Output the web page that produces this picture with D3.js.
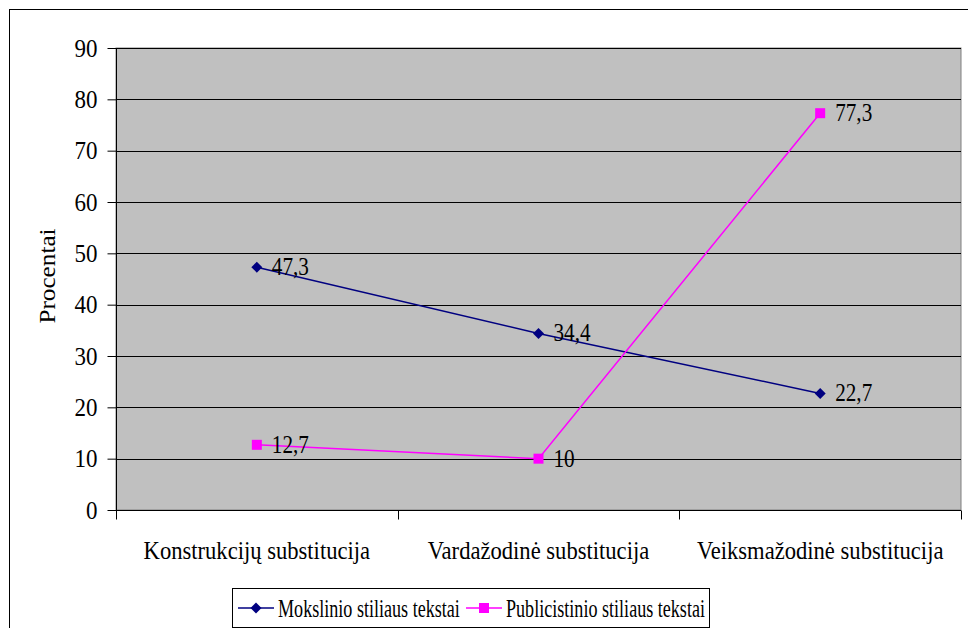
<!DOCTYPE html>
<html>
<head>
<meta charset="utf-8">
<script src="https://cdn.jsdelivr.net/npm/d3@7"></script>
<style>
  body { margin: 0; }
</style>
</head>
<body>
<svg id="chart" width="968" height="628" font-family="Liberation Serif" font-size="20"></svg>
<script>
const categories = ["Konstrukcijų substitucija", "Vardažodinė substitucija", "Veiksmažodinė substitucija"];
const seriesNames = ["Mokslinio stiliaus tekstai", "Publicistinio stiliaus tekstai"];
const mokslinio = [47.3, 34.4, 22.7];
const publicistinio = [12.7, 10, 77.3];
const yTicks = [0, 10, 20, 30, 40, 50, 60, 70, 80, 90];

const plot = {left: 116, top: 48, right: 961, bottom: 510};

const svg = d3.select("#chart");

// the original text is stretched a bit, more in height than in width
function stretch(sel, sx, sy) {
  sel.each(function() {
    const t = d3.select(this);
    const tx = +t.attr("x") || 0, ty = +t.attr("y") || 0;
    t.attr("x", 0).attr("y", 0)
     .attr("transform", `translate(${tx},${ty}) scale(${sx},${sy})`);
  });
}

// outer frame
svg.append("rect")
    .attr("x", 9.5).attr("y", 9.5)
    .attr("width", 970).attr("height", 640)
    .attr("fill", "#fff")
    .attr("stroke", "#000");

const x = d3.scaleBand().domain(categories).range([plot.left, plot.right]);
const y = d3.scaleLinear().domain([0, 90]).range([plot.bottom, plot.top]);

// plot background
svg.append("rect")
    .attr("x", plot.left).attr("y", plot.top)
    .attr("width", plot.right - plot.left).attr("height", plot.bottom - plot.top)
    .attr("fill", "#c0c0c0")
    .attr("stroke", "#808080");

// gridlines
svg.append("g").selectAll("line")
    .data(yTicks.filter(d => d > 0))
    .enter().append("line")
    .attr("x1", plot.left).attr("x2", plot.right)
    .attr("y1", d => Math.round(y(d)) + 0.5).attr("y2", d => Math.round(y(d)) + 0.5)
    .attr("stroke", "#000");

// y axis
const yAxis = svg.append("g")
    .attr("transform", `translate(${plot.left + 0.5},0)`)
    .call(d3.axisLeft(y).tickValues(yTicks).tickSize(9).tickPadding(10));
yAxis.attr("font-family", "Liberation Serif").attr("font-size", 20);
yAxis.selectAll("text").attr("fill", "#000");
yAxis.selectAll("line, path").attr("stroke", "#000");
yAxis.select("path").attr("d", `M0,${plot.top}V${plot.bottom}`);
stretch(yAxis.selectAll("text"), 1.15, 1.26);

// x axis with ticks at category boundaries
const xAxisG = svg.append("g").attr("transform", `translate(0,${plot.bottom + 0.5})`);
xAxisG.append("line").attr("x1", plot.left).attr("x2", plot.right).attr("stroke", "#000");
const bounds = categories.map(c => x(c)).concat([plot.right]);
xAxisG.selectAll(".tk").data(bounds).enter().append("line")
    .attr("x1", d => Math.round(d) + 0.5).attr("x2", d => Math.round(d) + 0.5)
    .attr("y1", 0).attr("y2", 9).attr("stroke", "#000");
const catLabels = xAxisG.selectAll(".lbl").data(categories).enter().append("text")
    .attr("x", d => x(d) + x.bandwidth() / 2)
    .attr("y", 48)
    .attr("text-anchor", "middle")
    .text(d => d);
stretch(catLabels, 1.13, 1.26);

// y title
svg.append("text")
    .attr("transform", "translate(55,276) rotate(-90) scale(1.26,1.13)")
    .attr("text-anchor", "middle")
    .text("Procentai");

const cx = d => x(d) + x.bandwidth() / 2;
const line = d3.line().x(d => cx(d.cat)).y(d => y(d.v));

const series = [
  {name: seriesNames[0], values: mokslinio, color: "#000080", marker: "diamond"},
  {name: seriesNames[1], values: publicistinio, color: "#ff00ff", marker: "square"}
];

function drawMarker(g, type, color) {
  if (type === "diamond") {
    g.append("path").attr("d", "M0,-5.5L5.5,0L0,5.5L-5.5,0Z").attr("fill", color);
  } else {
    g.append("rect").attr("x", -5).attr("y", -5).attr("width", 10).attr("height", 10).attr("fill", color);
  }
}

series.forEach(s => {
  const pts = s.values.map((v, i) => ({cat: categories[i], v}));
  svg.append("path")
      .datum(pts)
      .attr("d", line)
      .attr("fill", "none")
      .attr("stroke", s.color)
      .attr("stroke-width", 1.5);
  pts.forEach(p => {
    const g = svg.append("g").attr("transform", `translate(${cx(p.cat)},${y(p.v)})`);
    drawMarker(g, s.marker, s.color);
    const t = g.append("text")
        .attr("x", 15).attr("y", 8)
        .text(String(p.v).replace(".", ","));
    stretch(t, 1.06, 1.26);
  });
});

// legend
const lg = svg.append("g");
lg.append("rect")
    .attr("x", 232.5).attr("y", 588.5)
    .attr("width", 477).attr("height", 39)
    .attr("fill", "#fff").attr("stroke", "#000");
const legendPos = [{lx: 238, tx: 278}, {lx: 466, tx: 506}];
series.forEach((s, i) => {
  const p = legendPos[i];
  lg.append("line")
      .attr("x1", p.lx).attr("x2", p.lx + 36)
      .attr("y1", 608).attr("y2", 608)
      .attr("stroke", s.color).attr("stroke-width", 1.5);
  const m = lg.append("g").attr("transform", `translate(${p.lx + 18},608)`);
  drawMarker(m, s.marker, s.color);
  const t = lg.append("text")
      .attr("x", p.tx).attr("y", 617)
      .text(s.name);
  stretch(t, 0.905, 1.28);
});

svg.selectAll("text").attr("fill", "#000");
</script>
</body>
</html>
